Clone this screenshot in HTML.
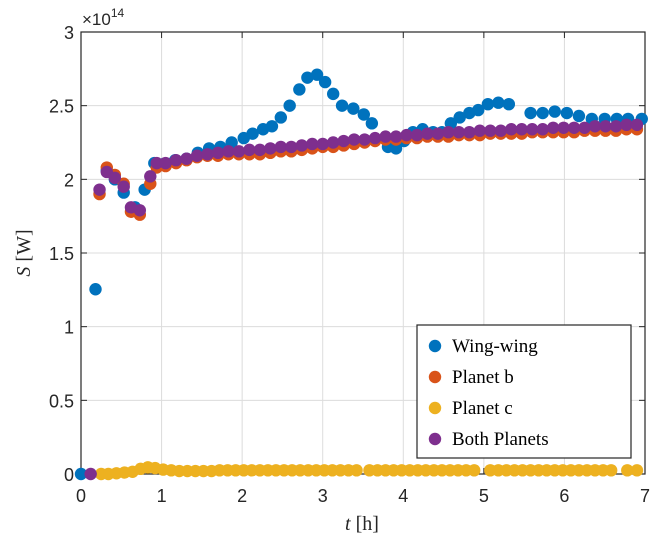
<!DOCTYPE html>
<html><head><meta charset="utf-8"><style>
body{margin:0;background:#fff;}
svg text{font-family:"Liberation Serif",serif;}
svg text.sans{font-family:"Liberation Sans",sans-serif;}
</style></head><body>
<svg id="chart" width="664" height="541"></svg>
<script>
const tickX=[0,1,2,3,4,5,6,7];
const tickY=[0,0.5,1,1.5,2,2.5,3];
const tickYLabels=["0","0.5","1","1.5","2","2.5","3"];
const wingT=[0,0.18,0.32,0.42,0.53,0.67,0.79,0.91,1.03,1.17,1.31,1.45,1.59,1.73,1.87,2.02,2.13,2.26,2.37,2.48,2.59,2.71,2.81,2.93,3.03,3.13,3.24,3.38,3.51,3.61,3.81,3.91,4.01,4.12,4.24,4.37,4.48,4.59,4.70,4.82,4.93,5.05,5.18,5.31,5.58,5.73,5.88,6.03,6.18,6.34,6.50,6.65,6.79,6.96];
const wingV=[0,1.254,2.06,2.0,1.91,1.81,1.93,2.11,2.105,2.13,2.14,2.18,2.21,2.22,2.25,2.28,2.31,2.34,2.36,2.42,2.50,2.61,2.69,2.71,2.66,2.58,2.50,2.48,2.44,2.38,2.22,2.21,2.26,2.32,2.34,2.32,2.32,2.38,2.42,2.45,2.47,2.51,2.52,2.51,2.45,2.45,2.46,2.45,2.43,2.41,2.41,2.41,2.41,2.41];
const pT=[0.23,0.32,0.42,0.53,0.62,0.73,0.86,0.94,1.05,1.18,1.31,1.44,1.57,1.70,1.83,1.96,2.09,2.22,2.35,2.48,2.61,2.74,2.87,3.0,3.13,3.26,3.39,3.52,3.65,3.78,3.91,4.04,4.17,4.30,4.43,4.56,4.69,4.82,4.95,5.08,5.21,5.34,5.47,5.60,5.73,5.86,5.99,6.12,6.25,6.38,6.51,6.64,6.77,6.90];
const planetBV=[1.90,2.08,2.03,1.97,1.78,1.76,1.97,2.08,2.09,2.11,2.13,2.15,2.16,2.16,2.17,2.17,2.17,2.17,2.18,2.19,2.19,2.20,2.21,2.22,2.22,2.23,2.24,2.25,2.26,2.27,2.27,2.28,2.28,2.29,2.29,2.29,2.30,2.30,2.30,2.31,2.31,2.31,2.31,2.32,2.32,2.32,2.32,2.32,2.33,2.33,2.33,2.33,2.34,2.34];
const bothT=[0.12].concat(pT);
const bothV=[0,1.93,2.05,2.01,1.95,1.81,1.79,2.02,2.11,2.11,2.13,2.14,2.16,2.17,2.18,2.19,2.19,2.20,2.20,2.21,2.22,2.22,2.23,2.24,2.24,2.25,2.26,2.27,2.27,2.28,2.29,2.29,2.30,2.30,2.31,2.31,2.32,2.32,2.32,2.33,2.33,2.33,2.34,2.34,2.34,2.34,2.35,2.35,2.35,2.35,2.36,2.36,2.36,2.37,2.37];
const cT=[0.25,0.34,0.44,0.54,0.64,0.74,0.83,0.92,1.02,1.12,1.22,1.32,1.42,1.52,1.62,1.72,1.82,1.92,2.02,2.12,2.22,2.32,2.42,2.52,2.62,2.72,2.82,2.92,3.02,3.12,3.22,3.32,3.42,3.58,3.68,3.78,3.88,3.98,4.08,4.18,4.28,4.38,4.48,4.58,4.68,4.78,4.88,5.08,5.18,5.28,5.38,5.48,5.58,5.68,5.78,5.88,5.98,6.08,6.18,6.28,6.38,6.48,6.58,6.78,6.90];
const cV=[0.0,0.0,0.005,0.01,0.015,0.035,0.045,0.04,0.03,0.025,0.02,0.02,0.02,0.02,0.02,0.025,0.025,0.025,0.025,0.025,0.025,0.025,0.025,0.025,0.025,0.025,0.025,0.025,0.025,0.025,0.025,0.025,0.025,0.025,0.025,0.025,0.025,0.025,0.025,0.025,0.025,0.025,0.025,0.025,0.025,0.025,0.025,0.025,0.025,0.025,0.025,0.025,0.025,0.025,0.025,0.025,0.025,0.025,0.025,0.025,0.025,0.025,0.025,0.025,0.025];
const L=81,R=645,T=32,B=474;
const X=t=>L+(R-L)*t/7;
const Y=v=>B-(B-T)*v/3;
const NS="http://www.w3.org/2000/svg";
const svg=document.getElementById('chart');
function mk(tag,attrs,parent){const e=document.createElementNS(NS,tag);for(const k in attrs)e.setAttribute(k,attrs[k]);(parent||svg).appendChild(e);return e;}
const bg=mk('rect',{x:L,y:T,width:R-L,height:B-T,fill:'#fff'});


tickX.forEach(t=>{
  const g=mk('line',{x1:X(t),x2:X(t),y1:T,y2:B,stroke:'#dcdcdc','stroke-width':1});
  
  
  mk('line',{x1:X(t),x2:X(t),y1:B,y2:B-6,stroke:'#262626'});
  mk('line',{x1:X(t),x2:X(t),y1:T,y2:T+6,stroke:'#262626'});
  const tx=mk('text',{x:X(t),y:B+28,'text-anchor':'middle','font-size':18,fill:'#262626','class':'sans'});
  tx.textContent=t;
  
  
});
tickY.forEach((v,i)=>{
  const g=mk('line',{x1:L,x2:R,y1:Y(v),y2:Y(v),stroke:'#dcdcdc','stroke-width':1});
  
  
  mk('line',{x1:L,x2:L+6,y1:Y(v),y2:Y(v),stroke:'#262626'});
  mk('line',{x1:R,x2:R-6,y1:Y(v),y2:Y(v),stroke:'#262626'});
  const tx=mk('text',{x:L-7,y:Y(v)+7,'text-anchor':'end','font-size':18,fill:'#262626','class':'sans'});
  tx.textContent=tickYLabels[i];
  
  
});
const frame=mk('rect',{x:L,y:T,width:R-L,height:B-T,fill:'none',stroke:'#262626','stroke-width':1.2});


function series(ts,vs,color,name){
  const g=mk('g',{fill:color});
  
  
  ts.forEach((t,i)=>{
    const c=mk('circle',{cx:X(t),cy:Y(vs[i]),r:6.2},g);
    
    
  });
}
series(wingT,wingV,'#0072BD','wing-wing-series');
series(pT,planetBV,'#D95319','planet-b-series');
series(cT,cV,'#EDB120','planet-c-series');
series(bothT,bothV,'#7E2F8E','both-planets-series');
const lg=mk('g',{});


mk('rect',{x:417,y:325,width:214,height:133,fill:'#fff',stroke:'#262626','stroke-width':1.2},lg);
const legNames=["Wing-wing","Planet b","Planet c","Both Planets"];
const legColors=['#0072BD','#D95319','#EDB120','#7E2F8E'];
legNames.forEach((n,i)=>{
  const y=346+i*31;
  const e=mk('g',{},lg);
  
  
  mk('circle',{cx:435,cy:y,r:6.2,fill:legColors[i]},e);
  const tx=mk('text',{x:452,y:y+6,'font-size':19,fill:'#000'},e);
  tx.textContent=n;
});
const ex=mk('text',{x:82,y:25,'font-size':17,fill:'#262626','class':'sans'});
ex.innerHTML='×10<tspan dy="-8" font-size="12">14</tspan>';


const yl=mk('text',{x:0,y:0,'font-size':20,fill:'#262626','text-anchor':'middle',transform:'translate(30,253) rotate(-90)'});
yl.innerHTML='<tspan font-style="italic">S</tspan> [W]';


const xl=mk('text',{x:362,y:530,'font-size':20,fill:'#262626','text-anchor':'middle'});
xl.innerHTML='<tspan font-style="italic">t</tspan> [h]';


</script>
</body></html>
